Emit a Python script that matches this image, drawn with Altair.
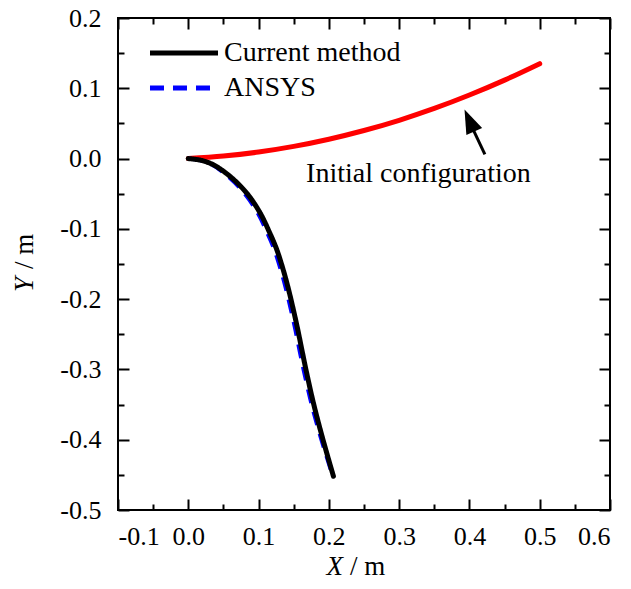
import altair as alt
import pandas as pd

FONT = "Liberation Serif"

# ---- data ----
init_x = [0.0, 0.05, 0.10, 0.15, 0.20, 0.25, 0.30, 0.35, 0.40, 0.45, 0.50]
init_y = [0.0, 0.0036, 0.0093, 0.0173, 0.0275, 0.0399, 0.0545, 0.0713, 0.0904, 0.1116, 0.135]

cur_x = [0.0, 0.018, 0.035, 0.059, 0.083, 0.102, 0.116, 0.1257, 0.1350, 0.1426, 0.1495,
         0.1557, 0.1616, 0.1680, 0.1781, 0.1903, 0.2065]
cur_y = [0.0, -0.0025, -0.0085, -0.025, -0.049, -0.077, -0.106, -0.129, -0.158, -0.186,
         -0.215, -0.243, -0.272, -0.303, -0.348, -0.395, -0.452]

ans_x = [0.0, 0.0172, 0.0335, 0.0560, 0.0795, 0.0985, 0.1125, 0.1222, 0.1315, 0.1391, 0.1460,
         0.1522, 0.1581, 0.1646, 0.1750, 0.1879, 0.2050]
ans_y = [0.0, -0.0025, -0.0085, -0.025, -0.049, -0.077, -0.106, -0.129, -0.158, -0.186,
         -0.215, -0.243, -0.272, -0.303, -0.348, -0.395, -0.450]

series_names = ["Current method", "ANSYS"]
series_colors = ["#000000", "#0000ff"]

ann_text = ["Initial configuration"]
ann_x = [0.3275]
ann_y = [-0.033]

arrow_x = [0.422, 0.404]
arrow_y = [0.006, 0.044]
arrow_tip_x = [0.393]
arrow_tip_y = [0.0697]

x_major = [-0.1, 0.0, 0.1, 0.2, 0.3, 0.4, 0.5, 0.6]
x_minor = [-0.05, 0.05, 0.15, 0.25, 0.35, 0.45, 0.55]
y_major = [-0.5, -0.4, -0.3, -0.2, -0.1, 0.0, 0.1, 0.2]
y_minor = [-0.45, -0.35, -0.25, -0.15, -0.05, 0.05, 0.15]

# ---- tables ----
df_init = pd.DataFrame({"x": init_x, "y": init_y, "i": range(len(init_x))})
df_cur = pd.DataFrame({"x": cur_x, "y": cur_y, "i": range(len(cur_x)),
                       "series": series_names[0]})
df_ans = pd.DataFrame({"x": ans_x, "y": ans_y, "i": range(len(ans_x)),
                       "series": series_names[1]})
df_ann = pd.DataFrame({"x": ann_x, "y": ann_y, "t": ann_text})
df_arrow = pd.DataFrame({"x": arrow_x, "y": arrow_y, "i": [0, 1]})
df_tip = pd.DataFrame({"x": arrow_tip_x, "y": arrow_tip_y})

xs = alt.Scale(domain=[-0.1, 0.6], nice=False, zero=False)
ys = alt.Scale(domain=[-0.5, 0.2], nice=False, zero=False)

label_expr = ("datum.value < -0.001 ? '-' + format(-datum.value, '.1f') "
              ": format(abs(datum.value), '.1f')")


def ax(orient, values, size, labels, pad=15):
    kw = dict(orient=orient, values=values, tickSize=size, offset=-size,
              domain=False, grid=False, labels=labels, title=None,
              tickColor="black", tickWidth=2)
    if labels:
        kw.update(labelExpr=label_expr, labelFont=FONT, labelFontSize=26,
                  labelColor="black", labelPadding=pad)
    return alt.Axis(**kw)


MAJ, MIN = 11, 6

leg = alt.Legend(title=None, orient="none", legendX=52, legendY=21,
                 symbolType="M-3,0L3,0", symbolSize=514, symbolStrokeWidth=5,
                 labelFont=FONT, labelFontSize=28, labelColor="black", labelLimit=0,
                 labelOffset=26, rowPadding=7, padding=0)
color_enc = alt.Color("series:N", scale=alt.Scale(domain=series_names, range=series_colors),
                      legend=leg)
dash_enc = alt.StrokeDash("series:N",
                          scale=alt.Scale(domain=series_names, range=[[1, 0], [14, 9]]),
                          legend=leg)

red = alt.Chart(df_init).mark_line(color="#ff0000", strokeWidth=5, strokeCap="round",
                                   interpolate="catmull-rom").encode(
    x=alt.X("x:Q", scale=xs, axis=ax("bottom", x_major, MAJ, True, 13)),
    y=alt.Y("y:Q", scale=ys, axis=ax("left", y_major, MAJ, True, 17)),
    order="i:Q",
)

blue = alt.Chart(df_ans).mark_line(strokeWidth=4, strokeCap="butt",
                                   interpolate="catmull-rom").encode(
    x=alt.X("x:Q", scale=xs, axis=ax("top", x_major, MAJ, False)),
    y=alt.Y("y:Q", scale=ys, axis=ax("right", y_major, MAJ, False)),
    color=color_enc, strokeDash=dash_enc, order="i:Q",
)

black = alt.Chart(df_cur).mark_line(strokeWidth=5, strokeCap="round",
                                    interpolate="catmull-rom").encode(
    x=alt.X("x:Q", scale=xs, axis=ax("bottom", x_minor, MIN, False)),
    y=alt.Y("y:Q", scale=ys, axis=ax("left", y_minor, MIN, False)),
    color=color_enc, strokeDash=dash_enc, order="i:Q",
)

shaft = alt.Chart(df_arrow).mark_line(color="black", strokeWidth=3).encode(
    x=alt.X("x:Q", scale=xs, axis=ax("top", x_minor, MIN, False)),
    y=alt.Y("y:Q", scale=ys, axis=ax("right", y_minor, MIN, False)),
    order="i:Q",
)

head = alt.Chart(df_tip).mark_point(shape="M0,0L0.36,1L-0.36,1Z", size=2304, angle=336,
                                    filled=True, color="black", opacity=1,
                                    strokeWidth=0).encode(
    x=alt.X("x:Q", scale=xs, axis=None),
    y=alt.Y("y:Q", scale=ys, axis=None),
)

ann = alt.Chart(df_ann).mark_text(font=FONT, fontSize=28, align="center",
                                  baseline="alphabetic", color="black").encode(
    x=alt.X("x:Q", scale=xs, axis=None),
    y=alt.Y("y:Q", scale=ys, axis=None),
    text="t:N",
)

# axis titles: italic variable + upright unit
xt1 = alt.Chart(pd.DataFrame({"t": ["X"]})).mark_text(
    font=FONT, fontSize=27, fontStyle="italic", align="right", baseline="alphabetic",
    color="black").encode(x=alt.value(225), y=alt.value(557), text="t:N")
xt2 = alt.Chart(pd.DataFrame({"t": ["/ m"]})).mark_text(
    font=FONT, fontSize=27, align="left", baseline="alphabetic",
    color="black").encode(x=alt.value(232), y=alt.value(557), text="t:N")
yt1 = alt.Chart(pd.DataFrame({"t": ["Y"]})).mark_text(
    font=FONT, fontSize=27, fontStyle="italic", align="left", baseline="alphabetic",
    angle=270, color="black").encode(x=alt.value(-85.5), y=alt.value(274), text="t:N")
yt2 = alt.Chart(pd.DataFrame({"t": ["/ m"]})).mark_text(
    font=FONT, fontSize=27, align="left", baseline="alphabetic",
    angle=270, color="black").encode(x=alt.value(-85.5), y=alt.value(251), text="t:N")

chart = alt.layer(red, blue, black, shaft, head, ann, xt1, xt2, yt1, yt2).resolve_axis(
    x="independent", y="independent"
).properties(
    width=492, height=492,
    autosize=alt.AutoSizeParams(type="none"),
    padding={"left": 118, "top": 18, "right": 21, "bottom": 79},
    background="white",
).configure_view(stroke="black", strokeWidth=2)

chart.save("out.html", embed_options={"renderer": "svg", "actions": False})
